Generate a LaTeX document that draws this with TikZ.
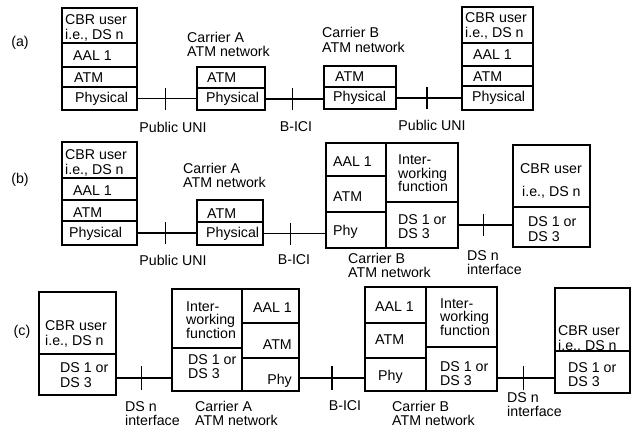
\documentclass[tikz,border=0pt]{standalone}
\usepackage{fontspec}
\setmainfont{Liberation Sans}
\usetikzlibrary{calc}
\newcommand\mkcell[5]{\node[cellbox, minimum width={#4-#2}, minimum height={#5-#3}] (#1) at ({(#2+#4)/2},{(#3+#5)/2}) {};}
\begin{document}
\begin{tikzpicture}[x=1pt,y=-1pt,
  cellbox/.style={draw, line width=1.1pt, rectangle, inner sep=0pt, outer sep=0pt},
  txt/.style={inner sep=0pt, font=\fontsize{14.2}{14.5}\selectfont, align=left},
  wire/.style={line width=1.1pt}]
\fill[white] (0,0) rectangle (631,429);
\useasboundingbox (0,0) rectangle (631,429);

% ---------------- row (a) ----------------
\node[txt] (la) at (20,43) {(a)};
\mkcell{a1}{62}{8}{137}{43}
\mkcell{a2}{62}{43}{137}{67}
\mkcell{a3}{62}{67}{137}{87}
\mkcell{a4}{62}{87}{137}{110}
\node[txt,anchor=west] (a1t) at (65,28) {CBR user\\i.e., DS n};
\node[txt,anchor=west] (a2t) at (73,56) {AAL 1};
\node[txt,anchor=west] (a3t) at (74,78) {ATM};
\node[txt,anchor=west] (a4t) at (75,99) {Physical};

\mkcell{b3}{197}{67}{265}{88}
\mkcell{b4}{197}{88}{265}{110}
\node[txt,anchor=west] (b3t) at (207,78) {ATM};
\node[txt,anchor=west] (b4t) at (206,99) {Physical};
\node[txt,anchor=west] (bl) at (187,44.5) {Carrier A\\ATM network};

\mkcell{c3}{324}{66}{396}{87}
\mkcell{c4}{324}{87}{396}{109}
\node[txt,anchor=west] (c3t) at (335,77) {ATM};
\node[txt,anchor=west] (c4t) at (333,98) {Physical};
\node[txt,anchor=west] (cl) at (322,40) {Carrier B\\ATM network};

\mkcell{d1}{462}{7}{533}{43}
\mkcell{d2}{462}{43}{533}{66}
\mkcell{d3}{462}{66}{533}{86}
\mkcell{d4}{462}{86}{533}{110}
\node[txt,anchor=west] (d1t) at (465,26) {CBR user\\i.e., DS n};
\node[txt,anchor=west] (d2t) at (473,55) {AAL 1};
\node[txt,anchor=west] (d3t) at (473,77) {ATM};
\node[txt,anchor=west] (d4t) at (472,98) {Physical};

\draw[wire] (a4.east) -- (a4.east -| b4.west);
\draw[wire] (b4.east) -- (b4.east -| c4.west);
\draw[wire] (c4.east) -- (c4.east -| d4.west);
\coordinate (ta1) at ($(a4.east)!0.47!(a4.east -| b4.west)$);
\coordinate (ta2) at ($(b4.east)!0.47!(b4.east -| c4.west)$);
\coordinate (ta3) at ($(c4.east)!0.47!(c4.east -| d4.west)$);
\foreach \t in {ta1,ta2,ta3} \draw[wire] ([yshift=11pt]\t) -- ([yshift=-11pt]\t);
\node[txt] (ua1) at (173,127) {Public UNI};
\node[txt] (ua2) at (296,127) {B-ICI};
\node[txt] (ua3) at (432,125) {Public UNI};

% ---------------- row (b) ----------------
\node[txt] (lb) at (20,180) {(b)};
\mkcell{e1}{62}{142}{137}{178}
\mkcell{e2}{62}{178}{137}{200}
\mkcell{e3}{62}{200}{137}{221}
\mkcell{e4}{62}{221}{137}{245}
\node[txt,anchor=west] (e1t) at (65,163) {CBR user\\i.e., DS n};
\node[txt,anchor=west] (e2t) at (73,191) {AAL 1};
\node[txt,anchor=west] (e3t) at (73,213) {ATM};
\node[txt,anchor=west] (e4t) at (69,234) {Physical};

\mkcell{f3}{197}{200}{263}{222}
\mkcell{f4}{197}{222}{263}{245}
\node[txt,anchor=west] (f3t) at (207,214) {ATM};
\node[txt,anchor=west] (f4t) at (206,234) {Physical};
\node[txt,anchor=west] (fl) at (183,175.5) {Carrier A\\ATM network};

\mkcell{g1}{326}{143}{386}{176}
\mkcell{g2}{326}{176}{386}{212}
\mkcell{g3}{326}{212}{386}{248}
\mkcell{g5}{386}{143}{458}{202}
\mkcell{g6}{386}{202}{458}{248}
\node[txt,anchor=west] (g1t) at (333,162) {AAL 1};
\node[txt,anchor=west] (g2t) at (333,197) {ATM};
\node[txt,anchor=west] (g3t) at (333,232) {Phy};
\node[txt,anchor=west,font=\fontsize{14.2}{13.5}\selectfont] (g5t) at (398,173.5) {Inter-\\working\\function};
\node[txt,anchor=west] (g6t) at (398,226.5) {DS 1 or\\DS 3};
\node[txt,anchor=west] (gl) at (348,265.5) {Carrier B\\ATM network};

\mkcell{h1}{513}{145}{590}{207}
\mkcell{h2}{513}{207}{590}{247}
\node[txt,anchor=west] (h1a) at (520,169) {CBR user};
\node[txt,anchor=west] (h1b) at (522,192) {i.e., DS n};
\node[txt,anchor=west] (h2t) at (528,229) {DS 1 or\\DS 3};

\draw[wire] (e4.east) -- (e4.east -| f4.west);
\draw[wire] (f4.east) -- (f4.east -| g3.west);
\draw[wire] (g6.east) -- (g6.east -| h2.west);
\coordinate (tb1) at ($(e4.east)!0.47!(e4.east -| f4.west)$);
\coordinate (tb2) at ($(f4.east)!0.43!(f4.east -| g3.west)$);
\coordinate (tb3) at ($(g6.east)!0.47!(g6.east -| h2.west)$);
\foreach \t in {tb1,tb2,tb3} \draw[wire] ([yshift=11pt]\t) -- ([yshift=-11pt]\t);
\node[txt] (ub1) at (173,260) {Public UNI};
\node[txt] (ub2) at (294,260) {B-ICI};
\node[txt,anchor=west] (ub3) at (467,262.5) {DS n\\interface};

% ---------------- row (c) ----------------
\node[txt] (lc) at (22,332) {(c)};
\mkcell{i1}{39}{292}{116}{354}
\mkcell{i2}{39}{354}{116}{395}
\node[txt,anchor=west] (i1t) at (45,334) {CBR user\\i.e., DS n};
\node[txt,anchor=west] (i2t) at (60,375) {DS 1 or\\DS 3};

\mkcell{j5}{172}{289}{242}{348}
\mkcell{j6}{172}{348}{242}{391}
\mkcell{j1}{242}{289}{299}{323}
\mkcell{j2}{242}{323}{299}{358}
\mkcell{j3}{242}{358}{299}{391}
\node[txt,anchor=west,font=\fontsize{14.2}{13}\selectfont] (j5t) at (186,320) {Inter-\\working\\function};
\node[txt,anchor=west] (j6t) at (188,366.5) {DS 1 or\\DS 3};
\node[txt,anchor=east] (j1t) at (292,308) {AAL 1};
\node[txt,anchor=east] (j2t) at (292,345) {ATM};
\node[txt,anchor=east] (j3t) at (292,381) {Phy};
\node[txt,anchor=west] (jl) at (195,413.5) {Carrier A\\ATM network};

\mkcell{k1}{365}{287}{426}{323}
\mkcell{k2}{365}{323}{426}{358}
\mkcell{k3}{365}{358}{426}{391}
\mkcell{k5}{426}{287}{497}{347}
\mkcell{k6}{426}{347}{497}{391}
\node[txt,anchor=west] (k1t) at (375,307) {AAL 1};
\node[txt,anchor=west] (k2t) at (375,340) {ATM};
\node[txt,anchor=west] (k3t) at (378,377) {Phy};
\node[txt,anchor=west,font=\fontsize{14.2}{13.5}\selectfont] (k5t) at (440,317) {Inter-\\working\\function};
\node[txt,anchor=west] (k6t) at (440,373.5) {DS 1 or\\DS 3};
\node[txt,anchor=west] (kl) at (392,413.5) {Carrier B\\ATM network};

\mkcell{m1}{555}{288}{630}{351}
\mkcell{m2}{555}{351}{630}{393}
\node[txt,anchor=west] (m1t) at (558,339) {CBR user\\i.e., DS n};
\node[txt,anchor=west] (m2t) at (568,374.5) {DS 1 or\\DS 3};

\coordinate (cw1) at (i2.east |- 0,378);
\draw[wire] (cw1) -- (cw1 -| j6.west);
\draw[wire] (j3.east |- cw1) -- (cw1 -| k3.west);
\draw[wire] (k6.east |- cw1) -- (cw1 -| m2.west);
\coordinate (tc1) at ($(cw1)!0.46!(cw1 -| j6.west)$);
\coordinate (tc2) at ($(j3.east |- cw1)!0.5!(cw1 -| k3.west)$);
\coordinate (tc3) at ($(k6.east |- cw1)!0.45!(cw1 -| m2.west)$);
\foreach \t in {tc1,tc2,tc3} \draw[wire] ([yshift=12pt]\t) -- ([yshift=-12pt]\t);
\node[txt,anchor=west] (uc1) at (125,413.5) {DS n\\interface};
\node[txt] (uc2) at (345,406) {B-ICI};
\node[txt,anchor=west] (uc3) at (507,404.5) {DS n\\interface};
\end{tikzpicture}
\end{document}
